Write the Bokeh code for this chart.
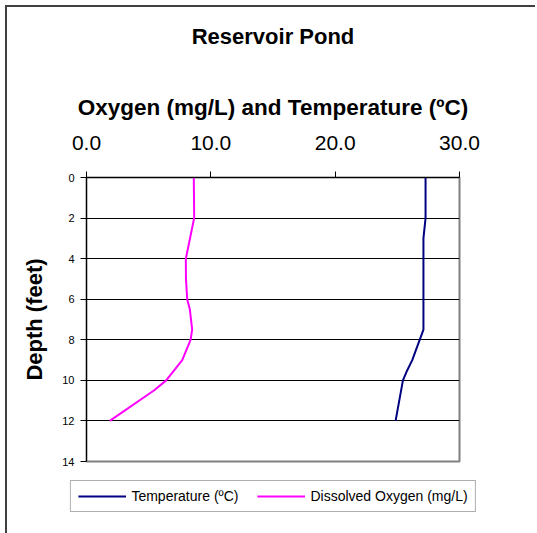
from bokeh.plotting import figure
from bokeh.models import Range1d, LinearAxis, FixedTicker, Legend, LegendItem, CustomJSTickFormatter
from bokeh.embed import file_html
from bokeh.resources import INLINE

# Data
do_depth = [0, 2, 4, 5, 6, 6.5, 7.5, 8, 9, 10, 10.5, 12]
do_values = [8.63, 8.66, 7.99, 8.0, 8.1, 8.31, 8.5, 8.37, 7.7, 6.41, 5.42, 1.87]
temp_depth = [0, 2, 3, 7.5, 9, 9.5, 10, 12]
temp_values = [27.27, 27.27, 27.1, 27.1, 26.2, 25.8, 25.45, 24.86]
x_ticks = [0, 10, 20, 30]
y_ticks = [0, 2, 4, 6, 8, 10, 12, 14]

FONT = "Liberation Sans"
TEMP_COLOR = "#000080"
DO_COLOR = "#FF00FF"

p = figure(frame_width=373, frame_height=284, output_backend="svg", toolbar_location=None,
           x_range=Range1d(0, 30), y_range=Range1d(14, 0),
           x_axis_location=None, y_axis_location=None,
           min_border_left=79, min_border_right=76, min_border_top=170, min_border_bottom=0,
           styles={"margin-left": "5px", "margin-top": "5px",
                   "border-left": "2px solid #404040", "border-top": "2px solid #404040"})

p.outline_line_color = "#808080"
p.outline_line_width = 2
p.background_fill_color = "white"
p.border_fill_color = "white"

# Top x axis
xa = LinearAxis(ticker=FixedTicker(ticks=x_ticks),
                formatter=CustomJSTickFormatter(code="return tick.toFixed(1);"))
xa.axis_label = "Oxygen (mg/L) and Temperature (\u00baC)"
xa.axis_label_text_font = FONT
xa.axis_label_text_font_style = "bold"
xa.axis_label_text_font_size = "22.5px"
xa.axis_label_text_color = "black"
xa.axis_label_standoff = 13
xa.major_label_text_font = FONT
xa.major_label_text_font_size = "21px"
xa.major_label_text_color = "black"
xa.major_label_standoff = 22
xa.major_tick_out = 6
xa.major_tick_in = 0
xa.minor_tick_out = 0
xa.minor_tick_in = 0
xa.axis_line_color = "black"
xa.major_tick_line_color = "black"
p.add_layout(xa, "above")

# Chart title, drawn as the label of a bare axis stacked above
ta = LinearAxis(ticker=FixedTicker(ticks=[]))
ta.axis_label = "Reservoir Pond"
ta.axis_label_text_font = FONT
ta.axis_label_text_font_style = "bold"
ta.axis_label_text_font_size = "22px"
ta.axis_label_text_color = "black"
ta.axis_label_standoff = 43
ta.major_label_standoff = 0
ta.major_tick_out = 0
ta.major_tick_in = 0
ta.minor_tick_out = 0
ta.minor_tick_in = 0
ta.axis_line_color = None
ta.major_label_text_font_size = "0px"
p.add_layout(ta, "above")

# Left y axis
ya = LinearAxis(ticker=FixedTicker(ticks=y_ticks))
ya.axis_label = "Depth (feet)"
ya.axis_label_text_font = FONT
ya.axis_label_text_font_style = "bold"
ya.axis_label_text_font_size = "22px"
ya.axis_label_text_color = "black"
ya.axis_label_standoff = 12
ya.major_label_text_font = FONT
ya.major_label_text_font_size = "11px"
ya.major_label_text_color = "black"
ya.major_label_standoff = 6
ya.major_tick_out = 6
ya.major_tick_in = 0
ya.minor_tick_out = 0
ya.minor_tick_in = 0
ya.axis_line_color = "black"
ya.major_tick_line_color = "black"
p.add_layout(ya, "left")

p.xgrid.visible = False
p.ygrid.ticker = FixedTicker(ticks=y_ticks)
p.ygrid.grid_line_color = "black"
p.ygrid.grid_line_width = 1

r_t = p.line(temp_values, temp_depth, line_color=TEMP_COLOR, line_width=2)
r_o = p.line(do_values, do_depth, line_color=DO_COLOR, line_width=2)

legend = Legend(items=[LegendItem(label="Temperature (\u00baC)", renderers=[r_t]),
                       LegendItem(label="Dissolved Oxygen (mg/L)", renderers=[r_o])],
                orientation="horizontal", location="top_center",
                label_text_font=FONT, label_text_font_size="14px",
                label_text_color="black",
                border_line_color="#606060", border_line_width=1.5,
                background_fill_color="white", background_fill_alpha=1,
                glyph_width=48, glyph_height=12, label_standoff=6, spacing=18,
                padding=7, margin=19)
p.add_layout(legend, "below")

open("out.html", "w").write(file_html(p, INLINE))
